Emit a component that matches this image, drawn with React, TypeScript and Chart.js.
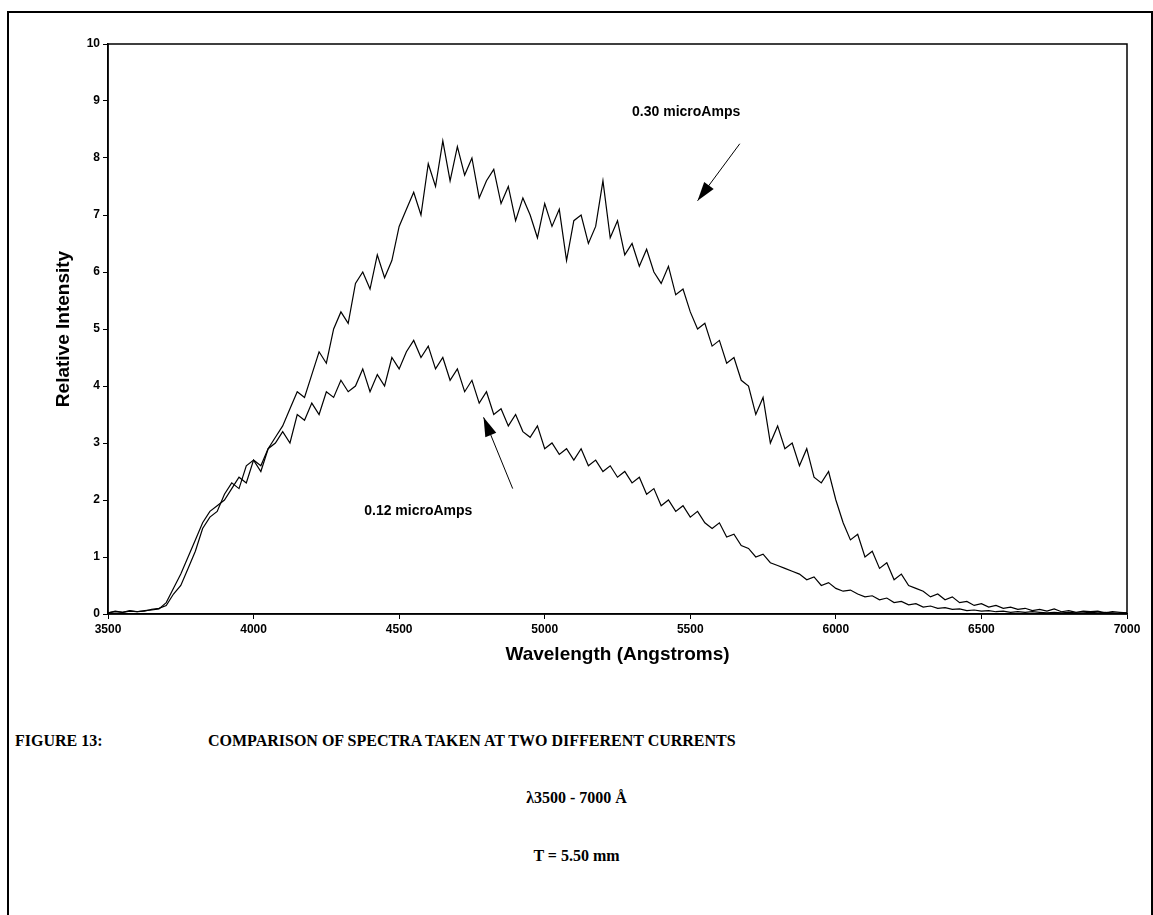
import React, { useEffect, useRef } from "react";
import { Chart, registerables } from "chart.js";
Chart.register(...registerables);

const wavelengths: number[] = Array.from({ length: 141 }, (_, i) => 3500 + i * 25);
const high030: number[] = [
  0.02,0.05,0.03,0.06,0.04,0.05,0.08,0.10,
  0.15,0.35,0.5,0.8,1.1,1.5,1.7,1.8,
  2.1,2.3,2.2,2.6,2.7,2.5,2.9,3.1,
  3.3,3.6,3.9,3.8,4.2,4.6,4.4,5.0,
  5.3,5.1,5.8,6.0,5.7,6.3,5.9,6.2,
  6.8,7.1,7.4,7.0,7.9,7.5,8.3,7.6,
  8.2,7.7,8.0,7.3,7.6,7.8,7.2,7.5,
  6.9,7.3,7.0,6.6,7.2,6.8,7.1,6.2,
  6.9,7.0,6.5,6.8,7.6,6.6,6.9,6.3,
  6.5,6.1,6.4,6.0,5.8,6.1,5.6,5.7,
  5.3,5.0,5.1,4.7,4.8,4.4,4.5,4.1,
  4.0,3.5,3.8,3.0,3.3,2.9,3.0,2.6,
  2.9,2.4,2.3,2.5,2.0,1.6,1.3,1.4,
  1.0,1.1,0.8,0.9,0.6,0.7,0.5,0.45,
  0.4,0.3,0.35,0.25,0.3,0.2,0.22,0.15,
  0.18,0.12,0.15,0.1,0.12,0.08,0.1,0.06,
  0.08,0.05,0.09,0.04,0.06,0.03,0.05,0.04,
  0.05,0.02,0.04,0.03,0.02,
];
const low012: number[] = [
  0.02,0.04,0.03,0.05,0.04,0.06,0.07,0.09,
  0.2,0.45,0.7,1.0,1.3,1.6,1.8,1.9,
  2.0,2.2,2.4,2.3,2.7,2.6,2.9,3.0,
  3.2,3.0,3.5,3.4,3.7,3.5,3.9,3.8,
  4.1,3.9,4.0,4.3,3.9,4.2,4.0,4.5,
  4.3,4.6,4.8,4.5,4.7,4.3,4.5,4.1,
  4.3,3.9,4.1,3.7,3.9,3.5,3.6,3.3,
  3.5,3.2,3.1,3.3,2.9,3.0,2.8,2.9,
  2.7,2.9,2.6,2.7,2.5,2.6,2.4,2.5,
  2.3,2.4,2.1,2.2,1.9,2.0,1.8,1.9,
  1.7,1.8,1.6,1.5,1.6,1.35,1.4,1.2,
  1.15,1.0,1.05,0.9,0.85,0.8,0.75,0.7,
  0.6,0.65,0.5,0.55,0.45,0.4,0.42,0.35,
  0.3,0.32,0.25,0.28,0.2,0.22,0.16,0.18,
  0.12,0.14,0.1,0.11,0.08,0.09,0.06,0.07,
  0.05,0.06,0.04,0.05,0.03,0.04,0.03,0.04,
  0.03,0.02,0.03,0.02,0.03,0.02,0.02,0.03,
  0.02,0.03,0.02,0.01,0.02,
];
const seriesLabels: string[] = ["0.30 microAmps", "0.12 microAmps"];

const annoPlugin = {
  id: "anno",
  afterDraw(chart: any) {
    const { ctx, chartArea: a, scales } = chart;
    const x = scales.x, y = scales.y;
    ctx.save();
    ctx.strokeStyle = "#000";
    ctx.lineWidth = 1.5;
    ctx.strokeRect(a.left, a.top, a.right - a.left, a.bottom - a.top);
    ctx.fillStyle = "#000";
    ctx.font = "bold 14px Arial, 'Liberation Sans'";
    ctx.textBaseline = "middle";
    const arrow = (x1: number, y1: number, x2: number, y2: number) => {
      ctx.lineWidth = 1;
      ctx.beginPath(); ctx.moveTo(x1, y1); ctx.lineTo(x2, y2); ctx.stroke();
      const ang = Math.atan2(y2 - y1, x2 - x1);
      ctx.beginPath();
      ctx.moveTo(x2, y2);
      ctx.lineTo(x2 - 20 * Math.cos(ang - 0.3), y2 - 20 * Math.sin(ang - 0.3));
      ctx.lineTo(x2 - 20 * Math.cos(ang + 0.3), y2 - 20 * Math.sin(ang + 0.3));
      ctx.closePath(); ctx.fill();
    };
    ctx.fillText(seriesLabels[0], x.getPixelForValue(5300), y.getPixelForValue(8.8));
    arrow(x.getPixelForValue(5670), y.getPixelForValue(8.25), x.getPixelForValue(5525), y.getPixelForValue(7.25));
    ctx.fillText(seriesLabels[1], x.getPixelForValue(4380), y.getPixelForValue(1.8));
    arrow(x.getPixelForValue(4890), y.getPixelForValue(2.2), x.getPixelForValue(4790), y.getPixelForValue(3.45));
    ctx.restore();
  },
};

export default function App() {
  const ref = useRef<HTMLCanvasElement>(null);
  useEffect(() => {
    const mk = (d: number[]) => d.map((v, i) => ({ x: wavelengths[i], y: v }));
    const font = { family: "Arial, 'Liberation Sans'", weight: "bold" as const, size: 12 };
    const chart = new Chart(ref.current!, {
      type: "line",
      data: {
        datasets: [
          { label: seriesLabels[0], data: mk(high030), borderColor: "#000", borderWidth: 1.2, pointRadius: 0, tension: 0 },
          { label: seriesLabels[1], data: mk(low012), borderColor: "#000", borderWidth: 1.2, pointRadius: 0, tension: 0 },
        ],
      },
      plugins: [annoPlugin],
      options: {
        animation: false,
        responsive: false,
        layout: { padding: { left: 48, top: 44, right: 26, bottom: 30 } },
        plugins: { legend: { display: false }, tooltip: { enabled: false } },
        scales: {
          x: {
            type: "linear", min: 3500, max: 7000,
            ticks: { stepSize: 500, color: "#000", font, maxRotation: 0, callback: (v: any) => String(v) },
            grid: { drawOnChartArea: false, color: "#000", tickLength: 5 },
            border: { color: "#000", width: 1.5 },
            title: { display: true, text: "Wavelength (Angstroms)", color: "#000", font: { family: "Arial, 'Liberation Sans'", weight: "bold", size: 19 } },
            afterFit: (s: any) => { s.height = 56; },
          },
          y: {
            min: 0, max: 10,
            ticks: { stepSize: 1, color: "#000", font },
            grid: { drawOnChartArea: false, color: "#000", tickLength: 5 },
            border: { color: "#000", width: 1.5 },
            title: { display: true, text: "Relative Intensity", color: "#000", font: { family: "Arial, 'Liberation Sans'", weight: "bold", size: 19 } },
            afterFit: (s: any) => { s.width = 60; },
          },
        },
      },
    });
    return () => chart.destroy();
  }, []);
  const cap: React.CSSProperties = { position: "absolute", fontFamily: "'Liberation Serif', 'DejaVu Serif', serif", fontWeight: "bold", fontSize: 16, color: "#000", whiteSpace: "nowrap" };
  return (
    <div style={{ position: "fixed", left: 0, top: 0, width: 1153, height: 915, background: "#fff" }}>
      <div style={{ position: "absolute", left: 7, top: 11, width: 1142, height: 920, borderLeft: "2px solid #000", borderTop: "2px solid #000", borderRight: "2px solid #000" }} />
      <canvas ref={ref} width={1153} height={700} style={{ position: "absolute", left: 0, top: 0 }} />
      <div style={{ ...cap, left: 15, top: 732 }}>FIGURE 13:</div>
      <div style={{ ...cap, left: 208, top: 732 }}>COMPARISON OF SPECTRA TAKEN AT TWO DIFFERENT CURRENTS</div>
      <div style={{ ...cap, left: 0, width: 1153, textAlign: "center", top: 789 }}>λ3500 - 7000 Å</div>
      <div style={{ ...cap, left: 0, width: 1153, textAlign: "center", top: 847 }}>T = 5.50 mm</div>
    </div>
  );
}
